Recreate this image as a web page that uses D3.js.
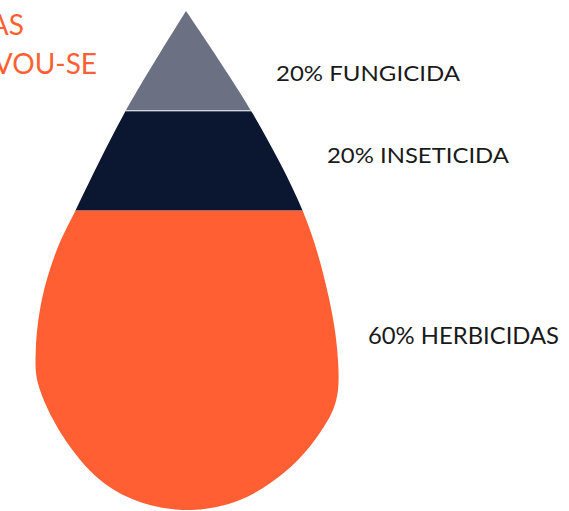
<!DOCTYPE html>
<html>
<head>
<meta charset="utf-8">
<script src="https://cdn.jsdelivr.net/npm/d3@7"></script>
<style>
  body { margin: 0; background: #fff; }
  svg { display: block; }
  text { font-family: Lato, "Open Sans", sans-serif; }
</style>
</head>
<body>
<svg id="chart"></svg>
<script>
// data
const categories = ['FUNGICIDA', 'INSETICIDA', 'HERBICIDAS'];
const shares = [20, 20, 60];
const colors = ['#6b7083', '#0b1631', '#ff5f33'];

// outline of the drop: [offset from centre, depth], both in % of total depth
const dropOutline = [
    [0, 0], [13.4, 20.6], [23.4, 40.1], [27.8, 53.9], [30.3, 67.9], [30.1, 78.0],
    [26.5, 85.0], [19.8, 92.4], [10.8, 98.0], [0.8, 100], [-9.2, 98.4], [-17.2, 94.0],
    [-24.8, 85.0], [-29.7, 74.5], [-30.1, 67.9], [-28.9, 57.9], [-25.9, 47.9],
    [-22.2, 40.1], [-12.4, 20.6], [0, 0]
];

const width = 569, height = 511;
const svg = d3.select('#chart').attr('width', width).attr('height', height);

const dropTop = 11, dropBottom = 510, cx = 186;
const pxPerUnit = (dropBottom - dropTop) / 100;

const y = d3.scaleLinear().domain([0, 100]).range([dropTop, dropBottom]);
const x = d3.scaleLinear().domain([-50, 50]).range([cx - 50 * pxPerUnit, cx + 50 * pxPerUnit]);

// cumulative bands
let acc = 0;
const bands = shares.map((v, i) => {
    const b = { name: categories[i], value: v, y0: acc, y1: acc + v, color: colors[i] };
    acc += v;
    return b;
});

const line = d3.line()
    .x(d => x(d[0]))
    .y(d => y(d[1]))
    .curve(d3.curveCatmullRom.alpha(0.5));

svg.append('clipPath')
    .attr('id', 'drop-clip')
    .append('path')
    .attr('d', line(dropOutline));

const g = svg.append('g').attr('clip-path', 'url(#drop-clip)');

g.selectAll('rect')
    .data(bands)
    .join('rect')
    .attr('x', 0)
    .attr('width', width)
    .attr('y', d => y(d.y0))
    .attr('height', d => y(d.y1) - y(d.y0))
    .attr('fill', d => d.color);

// thin white seam between the top two bands
g.append('line')
    .attr('x1', 0).attr('x2', width)
    .attr('y1', y(bands[0].y1)).attr('y2', y(bands[0].y1))
    .attr('stroke', '#fff')
    .attr('stroke-width', 1);

// labels: x, baseline, font size, text width
const labelPos = [[276, 81, 22, 184], [327, 163, 22, 182], [368, 344, 23, 191]];
svg.selectAll('text.label')
    .data(bands)
    .join('text')
    .attr('class', 'label')
    .attr('x', (d, i) => labelPos[i][0])
    .attr('y', (d, i) => labelPos[i][1])
    .attr('font-size', (d, i) => labelPos[i][2])
    .attr('textLength', (d, i) => labelPos[i][3])
    .attr('lengthAdjust', 'spacingAndGlyphs')
    .attr('fill', '#1a1a1a')
    .text(d => `${d.value}% ${d.name}`);

// cut-off heading at top left
const heading = ['AS', 'VOU-SE'];
svg.selectAll('text.heading')
    .data(heading)
    .join('text')
    .attr('class', 'heading')
    .attr('x', (d, i) => [24, 97][i])
    .attr('y', (d, i) => [35, 74][i])
    .attr('text-anchor', 'end')
    .attr('font-size', 28)
    .attr('fill', '#ff5f33')
    .text(d => d);
</script>
</body>
</html>
